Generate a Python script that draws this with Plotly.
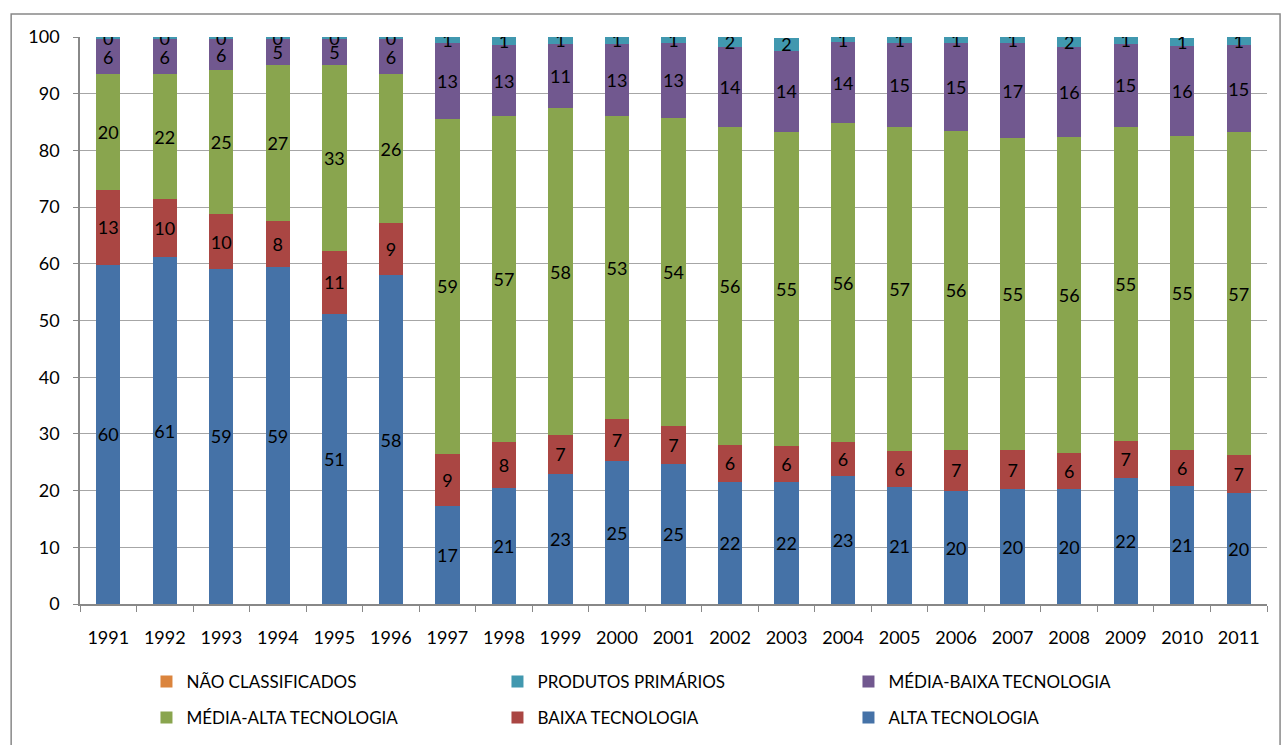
import plotly.graph_objects as go

years = [str(y) for y in range(1991, 2012)]

alta_tecnologia = [59.8, 61.2, 59.1, 59.4, 51.2, 58.0, 17.3, 20.5, 23.0, 25.2, 24.7,
                   21.6, 21.6, 22.6, 20.6, 19.9, 20.2, 20.2, 22.3, 20.8, 19.5]
baixa_tecnologia = [13.3, 10.2, 9.6, 8.2, 11.1, 9.2, 9.1, 8.1, 6.8, 7.4, 6.7,
                    6.4, 6.3, 6.0, 6.4, 7.3, 7.0, 6.4, 6.5, 6.4, 6.8]
media_alta_tecnologia = [20.3, 22.0, 25.4, 27.4, 32.7, 26.2, 59.2, 57.4, 57.6, 53.4, 54.4,
                         56.1, 55.4, 56.2, 57.1, 56.3, 54.9, 55.8, 55.3, 55.4, 56.9]
media_baixa_tecnologia = [6.2, 6.2, 5.6, 4.7, 4.7, 6.2, 13.3, 12.6, 11.4, 12.8, 13.2,
                          14.2, 14.2, 14.3, 14.9, 15.4, 16.8, 15.9, 14.7, 15.9, 15.4]
produtos_primarios = [0.4, 0.4, 0.3, 0.3, 0.3, 0.4, 1.1, 1.4, 1.2, 1.2, 1.0,
                      1.7, 2.4, 0.9, 1.0, 1.1, 1.1, 1.7, 1.2, 1.4, 1.4]
nao_classificados = [0.0] * 21

series = [
    ("ALTA TECNOLOGIA", alta_tecnologia, "#4572A7", "legend2", True),
    ("BAIXA TECNOLOGIA", baixa_tecnologia, "#AA4643", "legend2", True),
    ("MÉDIA-ALTA TECNOLOGIA", media_alta_tecnologia, "#89A54E", "legend2", True),
    ("MÉDIA-BAIXA TECNOLOGIA", media_baixa_tecnologia, "#71588F", "legend", True),
    ("PRODUTOS PRIMÁRIOS", produtos_primarios, "#4198AF", "legend", True),
    ("NÃO CLASSIFICADOS", nao_classificados, "#DB843D", "legend", False),
]

FONT = "Lato"
fig = go.Figure()
for name, vals, color, leg, show_text in series:
    fig.add_trace(go.Bar(
        x=years, y=vals, name=name, marker=dict(color=color, line=dict(width=0)),
        legend=leg,
        texttemplate="%{y:.0f}" if show_text else None,
        textposition="inside" if show_text else "none",
        insidetextanchor="middle", textangle=0,
        textfont=dict(color="black", size=18, family=FONT),
    ))

fig.update_layout(
    barmode="stack", bargap=0.57,
    width=1282, height=745,
    margin=dict(l=80, r=15, t=37, b=141, autoexpand=False),
    paper_bgcolor="white", plot_bgcolor="white",
    font=dict(family=FONT, size=18, color="black"),
    uniformtext=dict(minsize=18, mode="show"),
    legend=dict(orientation="h", x=0.056, xanchor="left", y=0.1088, yanchor="top",
                yref="container",
                traceorder="reversed", entrywidth=306, entrywidthmode="pixels",
                font=dict(size=17, family=FONT), bgcolor="rgba(0,0,0,0)"),
    legend2=dict(orientation="h", x=0.056, xanchor="left", y=0.0604, yanchor="top",
                 yref="container",
                 traceorder="reversed", entrywidth=306, entrywidthmode="pixels",
                 font=dict(size=17, family=FONT), bgcolor="rgba(0,0,0,0)"),
    shapes=[dict(type="rect", xref="paper", yref="paper",
                 x0=-0.058, x1=1.011, y0=-0.27, y1=1.0406,
                 line=dict(color="#888888", width=1.5), layer="below")],
)
fig.update_xaxes(showline=True, linecolor="#888888", linewidth=1.5,
                 ticks="outside", tickson="boundaries", ticklen=6, tickcolor="#888888",
                 ticklabelstandoff=17, showgrid=False, tickfont=dict(size=18))
fig.update_yaxes(range=[0, 100], dtick=10, showline=True, linecolor="#888888", linewidth=1.5,
                 ticks="outside", ticklen=5, tickcolor="#888888", ticklabelstandoff=10,
                 showgrid=True, gridcolor="#a6a6a6", gridwidth=1.2, zeroline=False,
                 tickfont=dict(size=18))

fig.write_html("out.html")
